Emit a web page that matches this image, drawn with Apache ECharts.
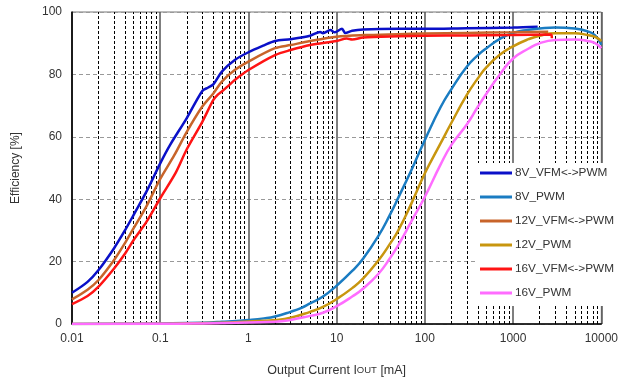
<!DOCTYPE html>
<html>
<head>
<meta charset="utf-8">
<script src="https://cdn.jsdelivr.net/npm/echarts@6/dist/echarts.min.js"></script>
<style>
  html, body { margin: 0; padding: 0; background: #fff; }
  #chart { width: 621px; height: 382px; }
</style>
</head>
<body>
<div id="chart"></div>
<script>
// x tick labels (decades) and dashed minor grid positions
const xTickLabels = ["0.01", "0.1", "1", "10", "100", "1000", "10000"];
const minorLines = [
  0.02, 0.03, 0.04, 0.05, 0.06, 0.07, 0.08, 0.09,
  0.2, 0.3, 0.4, 0.5, 0.6, 0.7, 0.8, 0.9,
  2, 3, 4, 5, 6, 7, 8, 9,
  20, 30, 40, 50, 60, 70, 80, 90,
  200, 300, 400, 500, 600, 700, 800, 900,
  2000, 3000, 4000, 5000, 6000, 7000, 8000, 9000
];

// 8V_VFM<->PWM
const v8vfmI = [0.01, 0.015, 0.02, 0.03, 0.04, 0.05, 0.07, 0.1, 0.13, 0.2, 0.3, 0.35, 0.4, 0.5, 0.7, 1, 1.5, 2, 3, 5, 6.5, 7, 8.5, 9.5, 11.5, 12.5, 15, 20, 50, 100, 300, 1000, 1900];
const v8vfmE = [10, 13.5, 17.3, 24.3, 30.1, 35, 42.5, 51.5, 57.5, 66, 74.7, 75.8, 76.8, 80.9, 84.6, 87.1, 89.3, 90.7, 91.3, 92.4, 93.6, 93.2, 94.2, 93.5, 94.6, 93.3, 94, 94.4, 94.6, 94.6, 94.8, 95, 95.3];
// 8V_PWM
const v8pwmI = [0.01, 0.1, 0.3, 0.5, 1, 1.5, 2, 3, 4, 5, 7, 10, 15, 20, 30, 40, 50, 70, 100, 150, 200, 300, 400, 500, 700, 1000, 1500, 2000, 3000, 5000, 7000, 8500, 10000];
const v8pwmE = [0, 0.2, 0.4, 0.7, 1.3, 1.8, 2.4, 3.9, 5.2, 6.6, 8.8, 12.3, 17, 21, 28.4, 34.9, 40.5, 49.2, 59, 69.4, 75.3, 82.5, 86.2, 88.4, 91.3, 93.3, 94.3, 94.7, 95, 94.7, 93.8, 92.5, 89.5];
// 12V_VFM<->PWM
const v12vfmI = [0.01, 0.015, 0.02, 0.03, 0.04, 0.05, 0.07, 0.1, 0.145, 0.2, 0.3, 0.4, 0.5, 0.7, 1, 2, 3, 5, 10, 20, 50, 100, 300, 1000, 2500];
const v12vfmE = [7.9, 11, 14.1, 20.5, 26, 30.7, 37.8, 46.5, 54.2, 61.6, 69.7, 73.9, 77.7, 81.4, 84.1, 88.4, 89.4, 90.7, 92.1, 92.6, 92.9, 93.1, 93.3, 93.5, 93.7];
// 12V_PWM
const v12pwmI = [0.01, 0.1, 0.5, 1, 2, 3, 5, 7, 10, 15, 20, 30, 40, 50, 70, 100, 150, 200, 300, 400, 500, 700, 1000, 1500, 2000, 3000, 5000, 7000, 8500, 10000];
const v12pwmE = [0, 0.1, 0.4, 0.8, 1.3, 2, 3.9, 5.5, 8, 11.5, 14.6, 20.5, 25.6, 30, 38.5, 48.3, 57.8, 64.5, 73.5, 78.8, 82.3, 86.2, 89, 91.3, 92.4, 93.2, 93.2, 92.6, 92, 90.7];
// 16V_VFM<->PWM
const v16vfmI = [0.01, 0.015, 0.02, 0.03, 0.04, 0.05, 0.07, 0.1, 0.15, 0.2, 0.3, 0.4, 0.45, 0.5, 0.6, 0.7, 1, 2, 3, 5, 10, 13, 15, 20, 50, 100, 300, 1000, 2700, 2750];
const v16vfmE = [6.4, 9, 12, 17.8, 22.6, 26.9, 32.8, 40.3, 48.5, 56, 64.8, 71.8, 73.5, 74.5, 76.5, 78.2, 81.4, 86.2, 87.8, 89.4, 90.7, 91.5, 91.2, 91.8, 92.2, 92.4, 92.5, 92.6, 92.8, 91.6];
// 16V_PWM
const v16pwmI = [0.01, 0.1, 0.3, 1, 2, 3, 5, 7, 10, 15, 20, 30, 40, 50, 70, 100, 150, 200, 300, 400, 500, 700, 1000, 1500, 2000, 3000, 5000, 7000, 8500, 10000];
const v16pwmE = [0, 0.05, 0.2, 0.5, 0.7, 1.3, 2.6, 3.6, 5.7, 8.8, 11.4, 16.2, 21, 25.3, 32.8, 40.8, 51, 57.4, 64, 69.7, 73.9, 79.8, 85.1, 88.3, 90, 91, 91.2, 90.7, 90, 88.4];

const names = ["8V_VFM<->PWM", "8V_PWM", "12V_VFM<->PWM", "12V_PWM", "16V_VFM<->PWM", "16V_PWM"];
const colors = ["#0a10c8", "#1a7cc2", "#c8642a", "#c8960f", "#ff1414", "#ff6cff"];

function pairs(xs, ys) {
  return xs.map((x, i) => [x, ys[i]]);
}

const curves = [
  pairs(v8vfmI, v8vfmE),
  pairs(v8pwmI, v8pwmE),
  pairs(v12vfmI, v12vfmE),
  pairs(v12pwmI, v12pwmE),
  pairs(v16vfmI, v16vfmE),
  pairs(v16pwmI, v16pwmE)
];

const font = "Liberation Sans";
let myChart = echarts.init(document.getElementById("chart"));

let series = curves.map((d, i) => ({
  name: names[i],
  type: "line",
  data: d,
  showSymbol: false,
  smooth: i % 2 == 1 ? 0.5 : 0.3,
  lineStyle: { width: 2.5, color: colors[i] },
  itemStyle: { color: colors[i] },
  z: 2
}));

// dashed minor grid lines
series.unshift({
  name: "grid",
  type: "line",
  data: [],
  silent: true,
  z: 1,
  markLine: {
    silent: true,
    z: 1,
    symbol: ["none", "none"],
    label: { show: false },
    lineStyle: { color: "#000", type: [3, 2], width: 1 },
    data: minorLines.map(v => ({ xAxis: v }))
  }
});

myChart.setOption({
  animation: false,
  textStyle: { fontFamily: font },
  grid: {
    left: 72,
    right: 18,
    top: 12,
    bottom: 58,
    show: true,
    borderColor: "#777",
    borderWidth: 1
  },
  legend: {
    data: names,
    orient: "vertical",
    left: 477,
    top: 163,
    padding: [3, 4, 6, 3],
    backgroundColor: "#fff",
    icon: "rect",
    itemWidth: 32,
    itemHeight: 3,
    itemGap: 10,
    textStyle: { fontSize: 11.8, color: "#333", fontFamily: font, lineHeight: 14, padding: [0, 0, 0, -2] }
  },
  xAxis: {
    type: "log",
    logBase: 10,
    min: 0.01,
    max: 10000,
    splitNumber: 6,
    name: "Output Current I{s|OUT} [mA]",
    nameLocation: "middle",
    nameGap: 40,
    nameTextStyle: {
      fontSize: 12.5,
      color: "#333",
      rich: { s: { fontSize: 9.5, color: "#333", verticalAlign: "bottom", padding: [0, 0, 2, 0] } }
    },
    axisLine: { lineStyle: { color: "#000", width: 1.5 } },
    axisTick: { show: false },
    axisLabel: {
      fontSize: 12,
      color: "#333",
      margin: 9,
      formatter: v => xTickLabels[Math.round(Math.log10(v)) + 2]
    },
    splitLine: { show: true, lineStyle: { color: "#555", width: 1.5, type: "solid" } }
  },
  yAxis: {
    type: "value",
    min: 0,
    max: 100,
    interval: 20,
    name: "Efficiency [%]",
    nameLocation: "middle",
    nameGap: 50,
    nameTextStyle: { fontSize: 12, color: "#333" },
    axisLine: { show: true, lineStyle: { color: "#000", width: 1.5 } },
    axisTick: { show: false },
    axisLabel: { fontSize: 12, color: "#333", margin: 10 },
    splitLine: { show: true, lineStyle: { color: "#999", type: [4, 3], width: 1 } }
  },
  series: series
});
</script>
</body>
</html>
